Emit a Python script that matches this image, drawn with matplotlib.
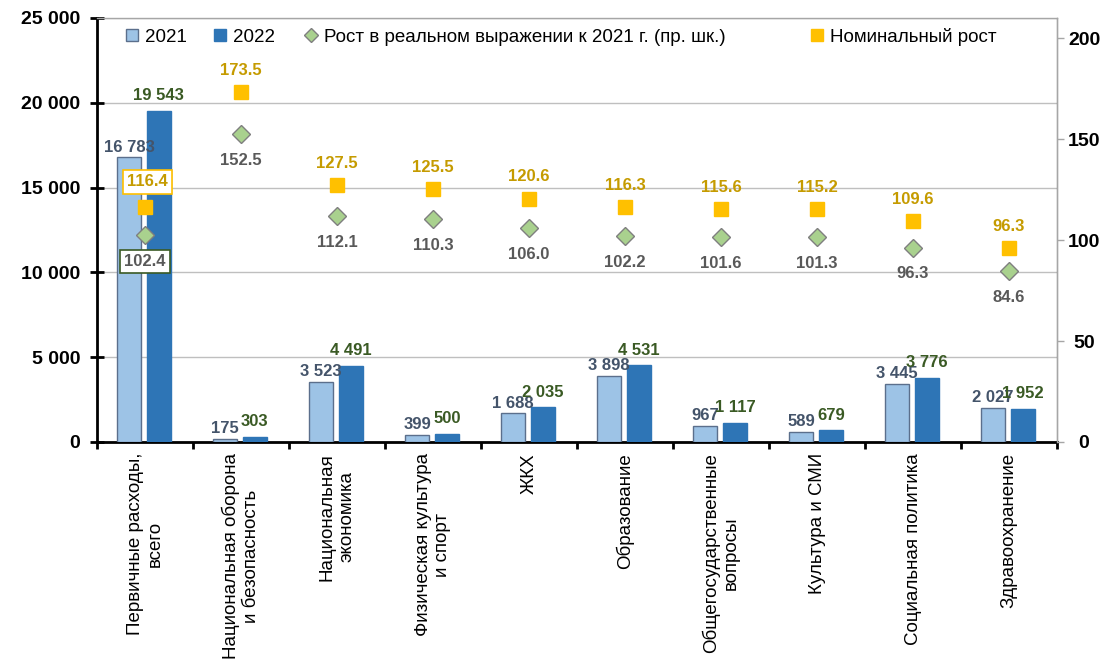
import matplotlib
matplotlib.use("Agg")
import matplotlib.pyplot as plt
import numpy as np
from matplotlib.ticker import FuncFormatter, FixedLocator
from matplotlib.lines import Line2D

plt.rcParams['font.family'] = ['Liberation Sans', 'DejaVu Sans']

categories = [
    "Первичные расходы,\nвсего",
    "Национальная оборона\nи безопасность",
    "Национальная\nэкономика",
    "Физическая культура\nи спорт",
    "ЖКХ",
    "Образование",
    "Общегосударственные\nвопросы",
    "Культура и СМИ",
    "Социальная политика",
    "Здравоохранение",
]
values_2021 = [16783, 175, 3523, 399, 1688, 3898, 967, 589, 3445, 2027]
values_2022 = [19543, 303, 4491, 500, 2035, 4531, 1117, 679, 3776, 1952]
real_growth = [102.4, 152.5, 112.1, 110.3, 106.0, 102.2, 101.6, 101.3, 96.3, 84.6]
nominal_growth = [116.4, 173.5, 127.5, 125.5, 120.6, 116.3, 115.6, 115.2, 109.6, 96.3]
left_ticks = [0, 5000, 10000, 15000, 20000, 25000]
right_ticks = [0, 50, 100, 150, 200]
legend_labels = ["2021", "2022", "Рост в реальном выражении к 2021 г. (пр. шк.)", "Номинальный рост"]

C21 = '#9DC3E6'
C21_EDGE = '#5B6F8C'
C22 = '#2E75B6'
C_REAL = '#A9D18E'
C_NOM = '#FFC000'
T21 = '#44546A'
T22 = '#3A5A24'
T_NOM = '#C59B00'
T_REAL = '#595959'

W, H = 1110, 660
fig = plt.figure(figsize=(W / 100, H / 100), dpi=100)
ax = fig.add_axes([97 / W, 1 - 442 / H, (1057 - 97) / W, (442 - 18) / H])
ax2 = ax.twinx()

n = len(categories)
x = np.arange(n) + 0.5
w = 0.25
ax.bar(x - 0.165, values_2021, w, color=C21, edgecolor=C21_EDGE, linewidth=1, zorder=3)
ax.bar(x + 0.145, values_2022, w, color=C22, edgecolor=C22, linewidth=1, zorder=3)

fmt = lambda v: f"{v:,.0f}".replace(',', ' ')

for xi, v in zip(x - 0.165, values_2021):
    ax.annotate(fmt(v), (xi, v), xytext=(0, 2), textcoords='offset points',
                ha='center', va='bottom', fontsize=12, fontweight='bold', color=T21, zorder=5)
for xi, v in zip(x + 0.145, values_2022):
    ax.annotate(fmt(v), (xi, v), xytext=(0, 5.5), textcoords='offset points',
                ha='center', va='bottom', fontsize=12, fontweight='bold', color=T22, zorder=5)

ax.set_xlim(0, n)
ax.set_ylim(0, 25000)
ax.yaxis.set_major_locator(FixedLocator(left_ticks))
ax.yaxis.set_major_formatter(FuncFormatter(lambda v, p: fmt(v)))
ax.grid(axis='y', color='#BFBFBF', linewidth=1, zorder=0)
ax.set_axisbelow(True)

ax.xaxis.set_major_locator(FixedLocator(np.arange(n + 1)))
ax.xaxis.set_major_formatter(FuncFormatter(lambda v, p: ''))
ax.set_xticks(x, minor=True)
ax.set_xticklabels(categories, minor=True, rotation=90, fontsize=13.5,
                   ha='center', va='top', multialignment='center')
ax.tick_params(axis='x', which='minor', length=0, pad=8)
ax.tick_params(axis='x', which='major', direction='out', length=5, width=2, color='black')
ax.tick_params(axis='y', direction='inout', length=10, width=2, color='black',
               labelsize=14, pad=7)
for lab in ax.get_yticklabels():
    lab.set_fontweight('bold')

for s in ['left', 'bottom']:
    ax.spines[s].set_color('black')
    ax.spines[s].set_linewidth(2)
ax.spines['top'].set_color('#A6A6A6')
ax.spines['top'].set_linewidth(1)

# right axis
ax2.set_ylim(0, 210)
ax2.yaxis.set_major_locator(FixedLocator(right_ticks))
ax2.tick_params(axis='y', direction='out', length=5, width=1, color='#A6A6A6',
                labelsize=14, pad=14.5)
for lab in ax2.get_yticklabels():
    lab.set_fontweight('bold')
    lab.set_horizontalalignment('center')
ax2.spines['right'].set_color('#A6A6A6')
ax2.spines['right'].set_linewidth(1)
for s in ['left', 'bottom', 'top']:
    ax2.spines[s].set_visible(False)

ax2.plot(x, nominal_growth, linestyle='none', marker='s', markersize=10,
         markerfacecolor=C_NOM, markeredgecolor=C_NOM, zorder=4)
ax2.plot(x, real_growth, linestyle='none', marker='D', markersize=9,
         markerfacecolor=C_REAL, markeredgecolor='#7F7F7F', markeredgewidth=1, zorder=4)

for i, (xi, v) in enumerate(zip(x, nominal_growth)):
    kw = {}
    dy = 15.5
    dx = 0
    if i == 0:
        kw['bbox'] = dict(boxstyle='square,pad=0.25', fc='white', ec=C_NOM, lw=1.2)
        dy = 18
        dx = 2
    ax2.annotate(f"{v:.1f}", (xi, v), xytext=(dx, dy), textcoords='offset points',
                 ha='center', va='center', fontsize=12, fontweight='bold', color=T_NOM, zorder=6, **kw)
for i, (xi, v) in enumerate(zip(x, real_growth)):
    kw = {}
    if i == 0:
        kw['bbox'] = dict(boxstyle='square,pad=0.25', fc='white', ec='#3A5A24', lw=1.2)
    ax2.annotate(f"{v:.1f}", (xi, v), xytext=(0, -19), textcoords='offset points',
                 ha='center', va='center', fontsize=12, fontweight='bold', color=T_REAL, zorder=6, **kw)

handles = [
    Line2D([], [], linestyle='none', marker='s', markersize=9, markerfacecolor=C21, markeredgecolor=C21_EDGE),
    Line2D([], [], linestyle='none', marker='s', markersize=9, markerfacecolor=C22, markeredgecolor=C22),
    Line2D([], [], linestyle='none', marker='D', markersize=7, markerfacecolor=C_REAL, markeredgecolor='#7F7F7F'),
    Line2D([], [], linestyle='none', marker='s', markersize=9, markerfacecolor=C_NOM, markeredgecolor=C_NOM),
]
legend_x = [124, 212, 303, 809]  # left edges of each legend entry (pixels)
for hx, h, lab in zip(legend_x, handles, legend_labels):
    lg = fig.legend([h], [lab], loc='center left', bbox_to_anchor=(hx / W, 1 - 37 / H),
                    frameon=False, fontsize=13.5, handlelength=0.8, handletextpad=0.3,
                    borderpad=0, borderaxespad=0)

fig.savefig('out.png', dpi=100)
